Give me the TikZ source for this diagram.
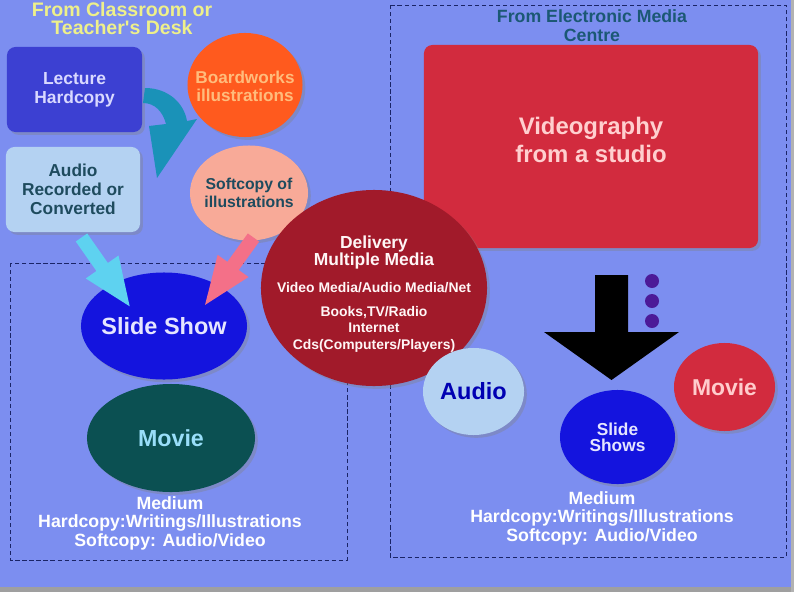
\documentclass[tikz,border=0pt]{standalone}
\usepackage{fontspec}
\setmainfont{Liberation Sans}
\usetikzlibrary{shapes.geometric, shadows, positioning}
\definecolor{bgblue}{HTML}{7C8EF0}
\definecolor{framenavy}{HTML}{1A2466}
\definecolor{lecblue}{HTML}{3C40D2}
\definecolor{paleblue}{HTML}{B4D2F2}
\definecolor{boardorange}{HTML}{FF5A1E}
\definecolor{boardtext}{HTML}{FFBC7C}
\definecolor{softpeach}{HTML}{F8AA98}
\definecolor{deliveryred}{HTML}{A11A2A}
\definecolor{studiored}{HTML}{D22B3E}
\definecolor{slideblue}{HTML}{1414DE}
\definecolor{movieteal}{HTML}{0B5052}
\definecolor{arrowteal}{HTML}{1A92B8}
\definecolor{arrowcyan}{HTML}{5ED2F0}
\definecolor{arrowpink}{HTML}{F47088}
\definecolor{dotpurple}{HTML}{4C1A98}
\definecolor{titleyellow}{HTML}{EEF08A}
\definecolor{titleteal}{HTML}{1B5874}
\definecolor{darkteal}{HTML}{1E4B5E}

\begin{document}
\begin{tikzpicture}[x=0.025cm, y=-0.025cm,
  bubble/.style={ellipse, fill=#1, inner sep=0pt,
                 drop shadow={shadow xshift=2pt, shadow yshift=-2pt, opacity=.35}},
  card/.style 2 args={rectangle, rounded corners=6pt, fill=#1, text=#2, inner sep=0pt, align=center,
                      drop shadow={shadow xshift=2pt, shadow yshift=-2pt, opacity=.35}},
  inside/.style 2 args={text=#1, align=center, font=\bfseries\fontsize{#2}{1.08\dimexpr#2pt\relax}\selectfont},
  frame/.style={densely dashed, draw=framenavy, line width=0.7pt},
  blockarrow/.style={fill=#1, draw=none},
  caption/.style={text=#1, align=center, font=\bfseries\fontsize{12.6}{13.1}\selectfont}
]
  \useasboundingbox (0,0) rectangle (794,592);
  \fill[bgblue] (0,0) rectangle (794,592);
  \fill[gray!75] (0,587) rectangle (794,592);
  \fill[gray!60] (791,0) rectangle (794,592);

  % -- dashed frames --------------------------------------------------------
  \draw[frame] (10,263) rectangle (347,560);
  \draw[frame] (390,5) rectangle (786,557);

  % -- classroom side -------------------------------------------------------
  \node[text=titleyellow, align=center, font=\bfseries\fontsize{13.9}{12.8}\selectfont] (classtitle) at (122,19)
    {From Classroom or\\Teacher\textquotesingle s Desk};
  \node[card={lecblue}{blue!15}, minimum width=3.375cm, minimum height=2.125cm,
        font=\bfseries\fontsize{12.4}{13.5}\selectfont] (lecture) at (74.5,89.5) {Lecture\\Hardcopy};
  \node[card={paleblue}{darkteal}, minimum width=3.35cm, minimum height=2.125cm,
        font=\bfseries\fontsize{12.3}{13.5}\selectfont] (audiorec) at (73,189.5) {Audio\\Recorded or\\Converted};
  \node[bubble=boardorange, minimum width=2.875cm, minimum height=2.6cm,
        label={[inside={boardtext}{12.2}, yshift=-1pt]center:Boardworks\\illustrations}] (board) at (245,85) {};
  \node[bubble=softpeach, minimum width=2.95cm, minimum height=2.375cm,
        label={[inside={darkteal}{11.2}, font=\bfseries\fontsize{11.2}{12.8}\selectfont]center:Softcopy of\\illustrations}]
        (softcopy) at (249,193) {};

  % curved arrow out of the lecture hardcopy
  \fill[blockarrow=arrowteal] (145,88) .. controls (168,88) and (184,103) .. (187,121) -- (197,119)
    -- (157,178) -- (149,126) -- (166,124) .. controls (163,112) and (155,103) .. (143,103) -- cycle;

  % -- electronic media side ------------------------------------------------
  \node[text=titleteal, align=center, font=\bfseries\fontsize{12.6}{13.5}\selectfont] (emctitle) at (592,26)
    {From Electronic Media\\Centre};
  \node[card={studiored}{pink!75!white}, minimum width=8.35cm, minimum height=5.075cm,
        label={[inside={pink!75!white}{17}, font=\bfseries\fontsize{17}{19.8}\selectfont, yshift=4.5pt]center:Videography\\from a studio}]
        (studio) at (591,146.5) {};

  % -- delivery -------------------------------------------------------------
  \node[bubble=deliveryred, minimum width=5.65cm, minimum height=4.9cm,
        label={[text=pink!15!white, align=center, font=\bfseries, yshift=-4.5pt]center:{%
          \fontsize{12.4}{10.6}\selectfont Delivery\\
          \fontsize{12.4}{10.6}\selectfont Multiple Media\\[7pt]
          \fontsize{9.9}{10.3}\selectfont Video Media/Audio Media/Net\\[5pt]
          \fontsize{9.9}{10.3}\selectfont Books,TV/Radio\\
          \fontsize{9.9}{10.3}\selectfont Internet\\
          \fontsize{9.9}{10.3}\selectfont Cds(Computers/Players)}}] (delivery) at (374,288) {};

  % -- classroom medium -----------------------------------------------------
  \node[bubble=slideblue, minimum width=4.15cm, minimum height=2.675cm,
        label={[inside={blue!10!white}{16.7}]center:Slide Show}] (slideshow) at (164,326) {};
  \node[bubble=movieteal, minimum width=4.2cm, minimum height=2.7cm,
        label={[inside={cyan!40!white}{16.5}]center:Movie}] (movieleft) at (171,438) {};
  \node[caption=white] (mediumleft) at (170,523)
    {Medium\\Hardcopy:Writings/Illustrations\\Softcopy: Audio/Video};

  \coordinate (cyantail) at (81.5,237.5);
  \coordinate (pinktail) at (253.5,237.5);
  \fill[blockarrow=arrowcyan, shift={(cyantail)}, rotate=-55]
    (0,-7) -- (36,-7) -- (36,-20) -- (84,0) -- (36,20) -- (36,7) -- (0,7) -- cycle;
  \fill[blockarrow=arrowpink, shift={(pinktail)}, rotate=-125.7]
    (0,-7) -- (35,-7) -- (35,-19) -- (83,0) -- (35,19) -- (35,7) -- (0,7) -- cycle;

  % -- studio medium --------------------------------------------------------
  \coordinate (blacktail) at (611.5,275);
  \fill[blockarrow=black, shift={(blacktail)}, rotate=-90]
    (0,-16.5) -- (57,-16.5) -- (57,-67.5) -- (105,0) -- (57,67.5) -- (57,16.5) -- (0,16.5) -- cycle;
  \node[circle, fill=dotpurple, minimum size=0.35cm, inner sep=0pt] (dot1) at (652,281) {};
  \node[circle, fill=dotpurple, minimum size=0.35cm, inner sep=0pt] (dot2) at (652,301) {};
  \node[circle, fill=dotpurple, minimum size=0.35cm, inner sep=0pt] (dot3) at (652,321) {};

  \node[bubble=paleblue, minimum width=2.525cm, minimum height=2.175cm,
        label={[inside={blue!70!black}{16.7}]center:Audio}] (audioright) at (473.5,391.5) {};
  \node[bubble=slideblue, minimum width=2.875cm, minimum height=2.35cm,
        label={[inside={blue!10!white}{12.3}, font=\bfseries\fontsize{12.3}{11.4}\selectfont]center:Slide\\Shows}]
        (slideshows) at (617.5,437) {};
  \node[bubble=studiored, minimum width=2.525cm, minimum height=2.2cm,
        label={[inside={pink!80!white}{16.3}]center:Movie}] (movieright) at (724.5,387) {};
  \node[caption=white] (mediumright) at (602,518)
    {Medium\\Hardcopy:Writings/Illustrations\\Softcopy: Audio/Video};
\end{tikzpicture}
\end{document}
